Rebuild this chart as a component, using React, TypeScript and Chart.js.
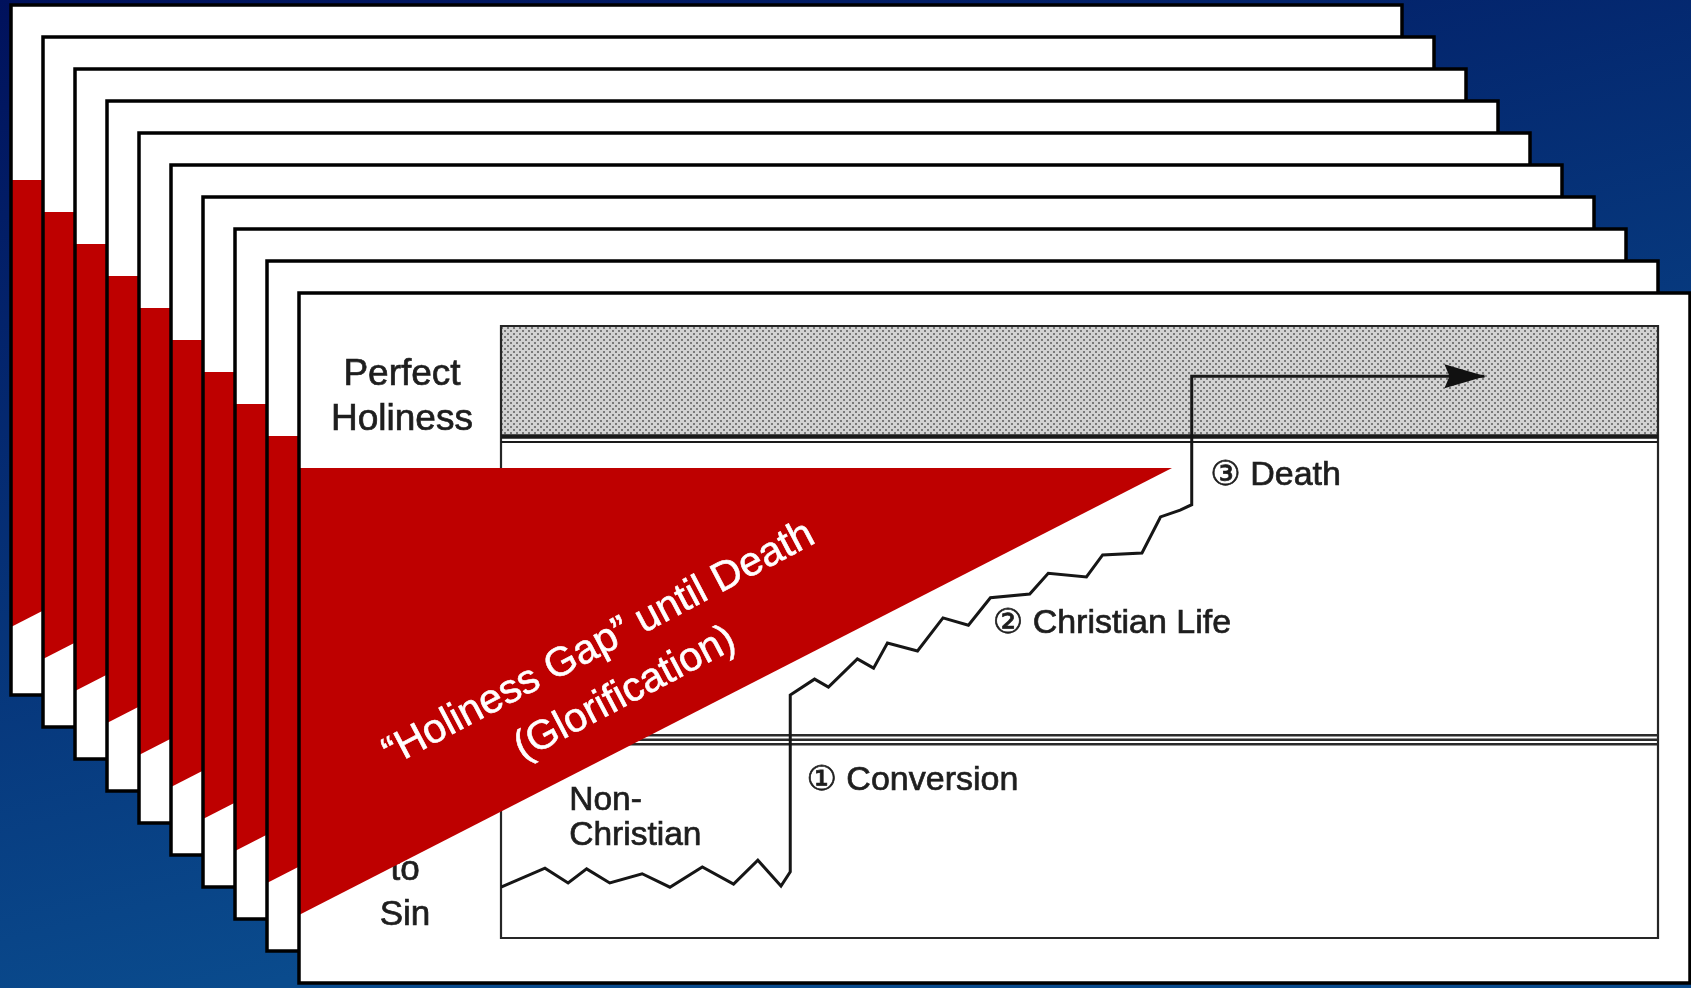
import React, { useEffect, useRef } from "react";
import { Chart, registerables } from "chart.js";

Chart.register(...registerables);

// ---------------- data ----------------
// Holiness path (x = time 0..100, y = holiness level 0..100)
const nonChristianX = [0, 3.8, 5.8, 7.4, 9.4, 12.2, 14.6, 17.4, 20.1, 22.2, 24.2, 25.0];
const nonChristianY = [8.3, 11.4, 9.0, 11.3, 9.0, 10.5, 8.3, 11.6, 8.8, 12.7, 8.5, 10.8];
const christianX = [25.0, 27.1, 28.3, 30.8, 32.2, 33.4, 36.0, 38.2, 40.4, 42.3, 45.7, 47.3, 50.6, 52.0, 55.4, 57.0, 58.7, 59.7];
const christianY = [39.7, 42.3, 41.0, 45.6, 44.1, 48.2, 46.9, 52.3, 51.1, 55.6, 56.2, 59.6, 59.0, 62.6, 62.9, 68.8, 69.9, 70.8];
const gloryX = [59.7, 59.7, 85.0];
const gloryY = [70.8, 91.8, 91.8];

// zone boundaries: conversion line, perfect holiness line
const zoneLevels = [32.4, 81.8];

const stageLabels = ["\u2460 Conversion", "\u2461 Christian Life", "\u2462 Death"];
const stageLabelAt = [
  [26.4, 25.7],
  [42.5, 51.4],
  [61.3, 75.5],
];
const topLeftLabel = ["Perfect", "Holiness"];
const bottomLeftLabel = ["to", "Sin"];
const nonChristianLabel = ["Non-", "Christian"];
const gapText = ["\u201CHoliness Gap\u201D until Death", "(Glorification)"];

// ---------------- layout / style ----------------
const W = 1691;
const H = 988;
const CARD_COUNT = 10;
const CARD_W = 1391;
const CARD_H = 690;
const CARD_X0 = 11;
const CARD_Y0 = 5;
const CARD_STEP = 32;
const RED = "#be0000";
const INK = "#1e1e1e";
const FONT = "'Liberation Sans', Arial, 'DejaVu Sans', sans-serif";

function makePattern(ctx: CanvasRenderingContext2D) {
  const c = document.createElement("canvas");
  c.width = 6;
  c.height = 6;
  const p = c.getContext("2d")!;
  p.fillStyle = "#d2d2d2";
  p.fillRect(0, 0, 6, 6);
  p.fillStyle = "#7a7a7a";
  p.fillRect(0, 0, 2, 2);
  p.fillRect(3, 3, 2, 2);
  return ctx.createPattern(c, "repeat");
}

function redTriangle(ctx: CanvasRenderingContext2D, L: number, T: number) {
  ctx.fillStyle = RED;
  ctx.beginPath();
  ctx.moveTo(L, T + 175);
  ctx.lineTo(L + 873, T + 175);
  ctx.lineTo(L, T + 622);
  ctx.closePath();
  ctx.fill();
}

function heavyText(ctx: CanvasRenderingContext2D, t: string, x: number, y: number) {
  ctx.fillText(t, x, y);
  ctx.strokeText(t, x, y);
}

const sceneryPlugin = {
  id: "scenery",
  beforeDraw(chart: any) {
    const ctx: CanvasRenderingContext2D = chart.ctx;
    const xs = chart.scales.x;
    const ys = chart.scales.y;
    ctx.save();
    // background
    const g = ctx.createLinearGradient(0, 0, 250, H);
    g.addColorStop(0, "#00115c");
    g.addColorStop(1, "#0a4b8d");
    ctx.fillStyle = g;
    ctx.fillRect(0, 0, W, H);

    // back cards
    for (let i = 0; i < CARD_COUNT; i++) {
      const L = CARD_X0 + CARD_STEP * i;
      const T = CARD_Y0 + CARD_STEP * i;
      ctx.fillStyle = "#ffffff";
      ctx.fillRect(L, T, CARD_W, CARD_H);
      if (i < CARD_COUNT - 1) {
        redTriangle(ctx, L, T);
        ctx.lineWidth = 3.5;
        ctx.strokeStyle = "#000";
        ctx.strokeRect(L, T, CARD_W, CARD_H);
      }
    }

    // front card diagram
    const x0 = xs.getPixelForValue(0);
    const x1 = xs.getPixelForValue(100);
    const yTop = ys.getPixelForValue(100);
    const yBot = ys.getPixelForValue(0);
    const yPerfect = ys.getPixelForValue(zoneLevels[1]);
    const yConv = ys.getPixelForValue(zoneLevels[0]);

    ctx.fillStyle = makePattern(ctx) as any;
    ctx.fillRect(x0, yTop, x1 - x0, yPerfect - yTop);

    ctx.strokeStyle = "#262626";
    ctx.lineWidth = 2.2;
    ctx.beginPath();
    ctx.rect(x0, yTop, x1 - x0, yBot - yTop);
    ctx.stroke();

    // perfect holiness double line
    ctx.lineWidth = 4.5;
    ctx.strokeStyle = "#1a1a1a";
    ctx.beginPath();
    ctx.moveTo(x0, yPerfect - 1);
    ctx.lineTo(x1, yPerfect - 1);
    ctx.stroke();
    ctx.lineWidth = 2;
    ctx.beginPath();
    ctx.moveTo(x0, yPerfect + 4.5);
    ctx.lineTo(x1, yPerfect + 4.5);
    ctx.stroke();

    // conversion triple line
    ctx.strokeStyle = "#2a2a2a";
    ctx.lineWidth = 2.6;
    for (const d of [-4.5, 0, 4.5]) {
      ctx.beginPath();
      ctx.moveTo(x0, yConv + d);
      ctx.lineTo(x1, yConv + d);
      ctx.stroke();
    }

    // labels
    ctx.fillStyle = INK;
    ctx.strokeStyle = INK;
    ctx.lineWidth = 0.7;
    ctx.textBaseline = "middle";
    ctx.font = `34px ${FONT}`;
    ctx.textAlign = "left";
    stageLabels.forEach((t, i) => {
      heavyText(ctx, t, xs.getPixelForValue(stageLabelAt[i][0]), ys.getPixelForValue(stageLabelAt[i][1]));
    });
    ctx.font = `33.5px ${FONT}`;
    const ncx = xs.getPixelForValue(5.9);
    heavyText(ctx, nonChristianLabel[0], ncx, ys.getPixelForValue(22.5));
    heavyText(ctx, nonChristianLabel[1], ncx, ys.getPixelForValue(16.7));

    ctx.font = `37px ${FONT}`;
    ctx.textAlign = "center";
    const lx = x0 - 99;
    heavyText(ctx, topLeftLabel[0], lx, ys.getPixelForValue(92.0));
    heavyText(ctx, topLeftLabel[1], lx, ys.getPixelForValue(84.6));
    ctx.font = `35px ${FONT}`;
    heavyText(ctx, bottomLeftLabel[0], lx + 3, ys.getPixelForValue(11.0));
    heavyText(ctx, bottomLeftLabel[1], lx + 3, ys.getPixelForValue(3.7));
    ctx.restore();
  },
  afterDatasetsDraw(chart: any) {
    const ctx: CanvasRenderingContext2D = chart.ctx;
    const xs = chart.scales.x;
    const ys = chart.scales.y;
    ctx.save();
    // arrow head at end of glorified path
    const tx = xs.getPixelForValue(gloryX[gloryX.length - 1]);
    const ty = ys.getPixelForValue(gloryY[gloryY.length - 1]);
    ctx.fillStyle = "#111";
    ctx.beginPath();
    ctx.moveTo(tx + 1, ty);
    ctx.lineTo(tx - 40, ty - 12);
    ctx.lineTo(tx - 35, ty);
    ctx.lineTo(tx - 40, ty + 12);
    ctx.closePath();
    ctx.fill();

    // front card red triangle
    const L = CARD_X0 + CARD_STEP * (CARD_COUNT - 1);
    const T = CARD_Y0 + CARD_STEP * (CARD_COUNT - 1);
    redTriangle(ctx, L, T);
    ctx.lineWidth = 3.5;
    ctx.strokeStyle = "#000";
    ctx.strokeRect(L, T, CARD_W, CARD_H);

    // gap text
    ctx.translate(612, 669);
    ctx.rotate((-27.8 * Math.PI) / 180);
    ctx.fillStyle = "#ffffff";
    ctx.strokeStyle = "#ffffff";
    ctx.lineWidth = 0.6;
    ctx.font = `41px ${FONT}`;
    ctx.textAlign = "center";
    ctx.textBaseline = "middle";
    heavyText(ctx, gapText[0], 0, -28);
    heavyText(ctx, gapText[1], 0, 28);
    ctx.restore();
  },
};

export default function App() {
  const ref = useRef<HTMLCanvasElement | null>(null);
  useEffect(() => {
    const canvas = ref.current!;
    const pts: { x: number; y: number }[] = [];
    nonChristianX.forEach((x, i) => pts.push({ x, y: nonChristianY[i] }));
    christianX.forEach((x, i) => pts.push({ x, y: christianY[i] }));
    gloryX.forEach((x, i) => pts.push({ x, y: gloryY[i] }));
    const chart = new Chart(canvas, {
      type: "scatter",
      data: {
        datasets: [
          {
            label: "Holiness",
            data: pts,
            showLine: true,
            borderColor: "#161616",
            borderWidth: 3,
            pointRadius: 0,
            tension: 0,
            fill: false,
          } as any,
        ],
      },
      options: {
        responsive: false,
        animation: false,
        devicePixelRatio: 1,
        layout: { padding: { left: 501, right: 33, top: 326, bottom: 50 } },
        scales: {
          x: { type: "linear", min: 0, max: 100, display: false },
          y: { type: "linear", min: 0, max: 100, display: false },
        },
        plugins: {
          legend: { display: false },
          tooltip: { enabled: false },
          title: { display: false },
        },
      },
      plugins: [sceneryPlugin as any],
    });
    return () => chart.destroy();
  }, []);
  return (
    <div style={{ position: "fixed", left: 0, top: 0, width: W, height: H }}>
      <canvas ref={ref} width={W} height={H} style={{ display: "block", width: W, height: H }} />
    </div>
  );
}
